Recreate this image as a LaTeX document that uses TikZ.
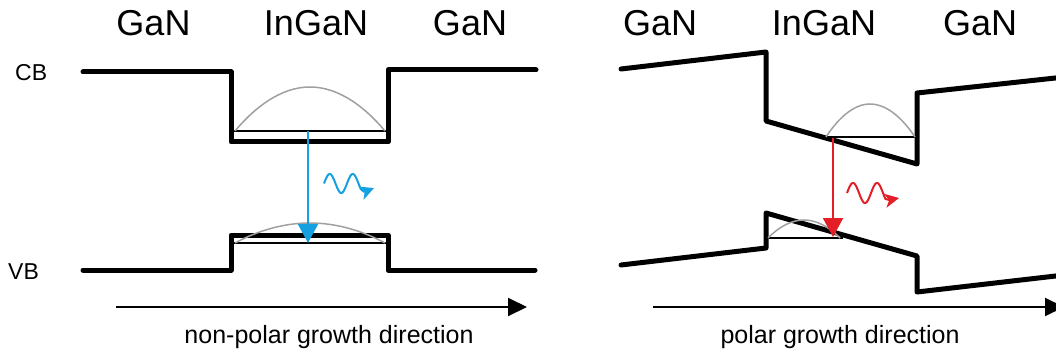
\documentclass[tikz,border=0pt]{standalone}
\usepackage{fontspec}
\setmainfont{Liberation Sans}
\usetikzlibrary{arrows.meta}
\definecolor{pblue}{RGB}{20,160,225}
\definecolor{pred}{RGB}{228,30,38}
\definecolor{arcgray}{RGB}{160,160,160}
\begin{document}
\begin{tikzpicture}[x=1pt,y=-1pt,
  band/.style={line width=5pt, line join=round, line cap=round},
  level/.style={line width=1.5pt},
  wf/.style={arcgray, line width=1.5pt},
  trans/.style={line width=2pt, -{Triangle[width=20pt,length=19pt]}},
  photon/.style={line width=2pt, -{Stealth[length=14pt,width=14pt,inset=4pt]}},
  growth/.style={line width=2pt, -{Triangle[width=18pt,length=19pt]}},
  big/.style={inner sep=0pt, anchor=base, font=\fontsize{36}{43}\selectfont},
  side/.style={inner sep=0pt, anchor=base west, font=\fontsize{23}{28}\selectfont},
  caption/.style={inner sep=0pt, anchor=base, font=\fontsize{25}{30}\selectfont}]
\useasboundingbox (0,0) rectangle (1056,358);
\clip (0,0) rectangle (1056,358);

% titles
\node[big] (g1) at (153.5,36) {GaN};
\node[big] (i1) at (316,36) {InGaN};
\node[big] (g2) at (470,36) {GaN};
\node[big] (g3) at (660,36) {GaN};
\node[big] (i2) at (824,36) {InGaN};
\node[big] (g4) at (980,36) {GaN};
\node[side] (cb) at (15,81) {CB};
\node[side] (vb) at (8,279) {VB};

% left panel bands
\draw[band] (83,72) -- (231,72) -- (231,142) -- (388,142) -- (388,70) -- (536,70);
\draw[band] (83,270) -- (231,270) -- (231,235) -- (388,235) -- (388,270) -- (535,270);
\draw[level] (233,131) -- (386,131);
\draw[level] (233,243) -- (386,243);
\draw[wf] (235,131) parabola bend (310,87) (385,131);
\draw[wf] (235,243) parabola bend (310,223) (385,243);
\coordinate (bs) at (308,131);
\coordinate (be) at (308,243);
\draw[trans, pblue] (bs) -- (be);
\draw[photon, pblue] plot[domain=0:1.6, samples=60, variable=\t] ({324+23*\t},{183.5-9.5*sin(360*\t)}) .. controls (364,192) .. (374,188);

% right panel bands
\draw[band] (621,69) -- (766,52) -- (766,121) -- (917,164) -- (917,93) -- (1060,77.5);
\draw[band] (621,265) -- (766,248) -- (766,213) -- (917,256) -- (917,292) -- (1060,275.5);
\draw[level] (826,137) -- (916,137);
\draw[level] (768,238) -- (843,238);
\draw[wf] (826,137) parabola bend (870,104) (915,137);
\draw[wf] (768,238) parabola bend (804,220) (840,238);
\coordinate (rs) at (833,138);
\coordinate (re) at (833,237);
\draw[trans, pred] (rs) -- (re);
\draw[photon, pred] plot[domain=0:1.6, samples=60, variable=\t] ({847+24*\t},{193-10*sin(360*\t)}) .. controls (889,200) .. (899,198);

% growth direction arrows
\coordinate (l1) at (116,307);
\coordinate (l2) at (527,307);
\coordinate (r1) at (653,307);
\coordinate (r2) at (1064,307);
\draw[growth] (l1) -- (l2);
\draw[growth] (r1) -- (r2);
\node[caption] (nl) at (329,343) {non-polar growth direction};
\node[caption] (nr) at (840,343) {polar growth direction};
\end{tikzpicture}
\end{document}
